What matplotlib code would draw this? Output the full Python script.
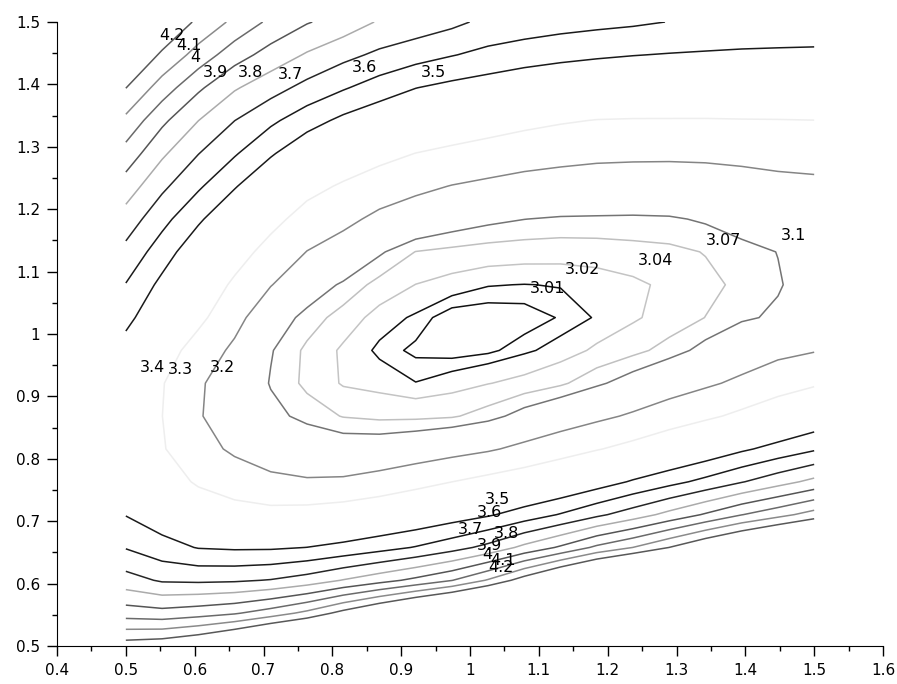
import numpy as np
import matplotlib
matplotlib.use("Agg")
import matplotlib.pyplot as plt
from matplotlib.ticker import MultipleLocator, FormatStrFormatter

# grid nodes (20 x 20, vertices of the contours)
x_nodes = [0.5, 0.5526, 0.6053, 0.6579, 0.7105, 0.7632, 0.8158, 0.8684, 0.9211, 0.9737,
           1.0263, 1.0789, 1.1316, 1.1842, 1.2368, 1.2895, 1.3421, 1.3947, 1.4474, 1.5]
y_nodes = [0.5, 0.5526, 0.6053, 0.6579, 0.7105, 0.7632, 0.8158, 0.8684, 0.9211, 0.9737,
           1.0263, 1.0789, 1.1316, 1.1842, 1.2368, 1.2895, 1.3421, 1.3947, 1.4474, 1.5]

# estimated values, one list per x node, going up in y
col00 = [4.253, 3.952, 3.740, 3.594, 3.496, 3.443, 3.408, 3.392, 3.399, 3.454, 3.532, 3.596, 3.672, 3.756, 3.854, 3.961, 4.076, 4.202, 4.323, 4.433]
col01 = [4.274, 3.936, 3.688, 3.537, 3.440, 3.355, 3.308, 3.301, 3.306, 3.345, 3.408, 3.474, 3.549, 3.632, 3.721, 3.818, 3.922, 4.054, 4.183, 4.304]
col02 = [4.326, 3.959, 3.682, 3.495, 3.376, 3.286, 3.233, 3.207, 3.213, 3.260, 3.323, 3.369, 3.428, 3.517, 3.615, 3.703, 3.801, 3.918, 4.061, 4.179]
col03 = [4.416, 3.990, 3.687, 3.486, 3.341, 3.250, 3.185, 3.153, 3.146, 3.180, 3.234, 3.284, 3.342, 3.408, 3.509, 3.611, 3.701, 3.811, 3.944, 4.077]
col04 = [4.533, 4.049, 3.705, 3.487, 3.331, 3.221, 3.152, 3.113, 3.097, 3.103, 3.128, 3.204, 3.265, 3.330, 3.404, 3.513, 3.620, 3.740, 3.861, 3.978]
col05 = [4.614, 4.127, 3.744, 3.501, 3.338, 3.209, 3.138, 3.088, 3.062, 3.063, 3.087, 3.130, 3.198, 3.261, 3.331, 3.421, 3.543, 3.669, 3.790, 3.907]
col06 = [4.704, 4.237, 3.805, 3.528, 3.355, 3.213, 3.129, 3.068, 3.037, 3.035, 3.056, 3.093, 3.157, 3.224, 3.288, 3.369, 3.476, 3.610, 3.729, 3.859]
col07 = [4.870, 4.344, 3.863, 3.564, 3.380, 3.235, 3.131, 3.062, 3.031, 3.016, 3.029, 3.058, 3.106, 3.178, 3.251, 3.330, 3.427, 3.553, 3.680, 3.790]
col08 = [4.980, 4.454, 3.925, 3.606, 3.409, 3.267, 3.145, 3.062, 3.0205, 3.007, 3.017, 3.0395, 3.069, 3.149, 3.221, 3.299, 3.395, 3.502, 3.640, 3.762]
col09 = [5.080, 4.554, 3.997, 3.661, 3.447, 3.2995, 3.166, 3.066, 3.029, 3.004, 3.002, 3.029, 3.061, 3.125, 3.197, 3.278, 3.368, 3.472, 3.605, 3.724]
col10 = [5.190, 4.664, 4.110, 3.729, 3.488, 3.330, 3.189, 3.084, 3.039, 3.007, 3.001, 3.021, 3.055, 3.110, 3.181, 3.259, 3.347, 3.449, 3.573, 3.675]
col11 = [5.300, 4.774, 4.252, 3.826, 3.544, 3.360, 3.222, 3.118, 3.048, 3.0167, 3.003, 3.0195, 3.052, 3.1005, 3.167, 3.241, 3.326, 3.428, 3.546, 3.660]
col12 = [5.430, 4.904, 4.395, 3.915, 3.607, 3.394, 3.259, 3.148, 3.064, 3.027, 3.0112, 3.021, 3.051, 3.095, 3.159, 3.229, 3.309, 3.411, 3.528, 3.641]
col13 = [5.550, 5.024, 4.527, 4.021, 3.679, 3.449, 3.294, 3.180, 3.092, 3.045, 3.0215, 3.026, 3.053, 3.094, 3.154, 3.220, 3.297, 3.399, 3.514, 3.627]
col14 = [5.660, 5.134, 4.648, 4.101, 3.750, 3.511, 3.330, 3.212, 3.1215, 3.0605, 3.036, 3.034, 3.058, 3.093, 3.152, 3.217, 3.294, 3.394, 3.503, 3.615]
col15 = [5.780, 5.254, 4.780, 4.201, 3.830, 3.568, 3.374, 3.248, 3.156, 3.082, 3.052, 3.0465, 3.062, 3.095, 3.152, 3.216, 3.294, 3.390, 3.495, 3.598]
col16 = [5.900, 5.374, 4.912, 4.309, 3.911, 3.628, 3.424, 3.282, 3.186, 3.114, 3.0705, 3.061, 3.0715, 3.105, 3.158, 3.217, 3.294, 3.387, 3.489, 3.585]
col17 = [6.010, 5.480, 5.030, 4.407, 3.997, 3.694, 3.483, 3.321, 3.218, 3.149, 3.093, 3.0774, 3.085, 3.124, 3.168, 3.221, 3.296, 3.386, 3.484, 3.574]
col18 = [6.120, 5.590, 5.154, 4.506, 4.066, 3.761, 3.535, 3.368, 3.254, 3.178, 3.1076, 3.096, 3.101, 3.139, 3.177, 3.228, 3.297, 3.385, 3.481, 3.570]
col19 = [6.230, 5.700, 5.280, 4.605, 4.142, 3.827, 3.587, 3.419, 3.286, 3.195, 3.142, 3.1236, 3.125, 3.145, 3.180, 3.236, 3.299, 3.384, 3.477, 3.572]

levels = [3.01, 3.02, 3.04, 3.07, 3.1, 3.2, 3.3, 3.4, 3.5, 3.6, 3.7, 3.8, 3.9, 4.0, 4.1, 4.2]
level_colors = ['#111111', '#111111', '#c4c4c4', '#c0c0c0', '#747474', '#858585', '#eeeeee', '#ffffff',
                '#1a1a1a', '#1a1a1a', '#262626', '#ababab', '#555555', '#6a6a6a', '#8a8a8a', '#585858']

z = np.array([col00, col01, col02, col03, col04, col05, col06, col07, col08, col09,
              col10, col11, col12, col13, col14, col15, col16, col17, col18, col19]).T

fig = plt.figure(figsize=(8.97, 6.84), dpi=100)
ax = fig.add_axes([57 / 897, 38 / 684, 826 / 897, 624 / 684])

cs = ax.contour(x_nodes, y_nodes, z, levels=levels, colors=level_colors, linewidths=1.1)

# label spots: text bottom-left corner, as in the original drawing
label_spots = [
    (4.2, 0.548, 1.466), (4.1, 0.573, 1.450), (4.0, 0.593, 1.431), (3.9, 0.612, 1.407),
    (3.8, 0.663, 1.407), (3.7, 0.721, 1.404), (3.6, 0.829, 1.415), (3.5, 0.928, 1.407),
    (3.01, 1.0875, 1.061), (3.02, 1.138, 1.091), (3.04, 1.2445, 1.106), (3.07, 1.342, 1.138),
    (3.1, 1.451, 1.146), (3.2, 0.622, 0.934), (3.3, 0.561, 0.931), (3.4, 0.521, 0.934),
    (3.5, 1.022, 0.723), (3.6, 1.010, 0.702), (3.7, 0.983, 0.675), (3.8, 1.034, 0.668),
    (3.9, 1.010, 0.649), (4.0, 1.018, 0.635), (4.1, 1.029, 0.625), (4.2, 1.026, 0.614),
]
for lev, lx, ly in label_spots:
    ax.text(lx, ly, '%g' % lev, fontsize=11.5, ha='left', va='bottom', color='black', zorder=5)

ax.set_xlim(0.4, 1.6)
ax.set_ylim(0.5, 1.5)
ax.spines['top'].set_visible(False)
ax.spines['right'].set_visible(False)
ax.xaxis.set_major_locator(MultipleLocator(0.1))
ax.xaxis.set_minor_locator(MultipleLocator(0.05))
ax.yaxis.set_major_locator(MultipleLocator(0.1))
ax.yaxis.set_minor_locator(MultipleLocator(0.05))
ax.xaxis.set_major_formatter(FormatStrFormatter('%g'))
ax.yaxis.set_major_formatter(FormatStrFormatter('%g'))
ax.tick_params(which='major', direction='out', length=7, width=1, labelsize=11, pad=5)
ax.tick_params(which='minor', direction='out', length=3.5, width=1)

fig.savefig('out.png', dpi=100)
